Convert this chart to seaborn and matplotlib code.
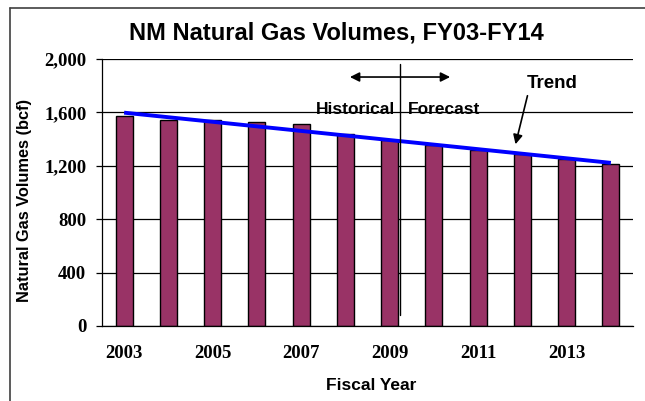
import numpy as np
import pandas as pd
import matplotlib
matplotlib.use("Agg")
import matplotlib.pyplot as plt
from matplotlib.lines import Line2D
import seaborn as sns

# ------------------------------------------
# Data
# ------------------------------------------

years = [2003, 2004, 2005, 2006, 2007, 2008, 2009, 2010, 2011, 2012, 2013, 2014]
volumes = [1573, 1545, 1540, 1526, 1511, 1440, 1390, 1355, 1320, 1285, 1250, 1212]
trend_years = [2003, 2014]
trend_values = [1598, 1222]
y_ticks = [0, 400, 800, 1200, 1600, 2000]
labelled_years = [2003, 2005, 2007, 2009, 2011, 2013]

df = pd.DataFrame({"year": [str(y) for y in years], "volume": volumes})

# ------------------------------------------
# Figure
# ------------------------------------------

sns.set_theme(style="white")
plt.rcParams["font.family"] = ["Liberation Sans", "DejaVu Sans"]
plt.rcParams["text.color"] = "black"
plt.rcParams["axes.labelcolor"] = "black"
plt.rcParams["xtick.color"] = "black"
plt.rcParams["ytick.color"] = "black"

fig = plt.figure(figsize=(6.45, 4.01), dpi=100)
ax = fig.add_axes([102 / 645, 1 - 326 / 401, 531 / 645, 267 / 401])

sns.barplot(
    data=df,
    x="year",
    y="volume",
    color="#993366",
    saturation=1,
    width=0.38,
    edgecolor="black",
    linewidth=1,
    ax=ax,
)

# trend line, drawn on the category positions
trend_pos = [years.index(y) for y in trend_years]
ax.plot(trend_pos, trend_values, color="#0000ff", lw=2.8, solid_capstyle="butt", zorder=4)

# ------------------------------------------
# Axes styling
# ------------------------------------------

ax.set_xlim(-0.5, len(years) - 0.5)
ax.set_ylim(0, 2000)
ax.set_yticks(y_ticks)
ax.set_yticklabels([f"{v:,}" for v in y_ticks])
ax.yaxis.grid(True, color="black", lw=0.9)
ax.set_axisbelow(True)

label_pos = [years.index(y) for y in labelled_years]
ax.set_xticks(label_pos)
ax.set_xticklabels([str(y) for y in labelled_years])
ax.set_xticks(np.arange(-0.5, len(years)), minor=True)
ax.tick_params(axis="x", which="major", length=0, pad=14)
ax.tick_params(axis="x", which="minor", length=4.3, width=0.9, color="black", direction="out")
ax.tick_params(axis="y", which="major", length=4.3, width=0.9, color="black", direction="out", pad=7)
ax.tick_params(left=True, bottom=True)

for lab in ax.get_xticklabels() + ax.get_yticklabels():
    lab.set_fontfamily("Liberation Serif")
    lab.set_fontweight("bold")
    lab.set_fontsize(13.5)
    lab.set_color("black")

for side in ["top", "right"]:
    ax.spines[side].set_visible(False)
for side in ["left", "bottom"]:
    ax.spines[side].set_color("black")
    ax.spines[side].set_linewidth(0.9)

ax.set_xlabel("")
ax.set_ylabel("")

# ------------------------------------------
# Annotations
# ------------------------------------------

ax.plot([6.23, 6.23], [82, 1963], color="black", lw=1.0, zorder=5)
ax.annotate(
    "", xy=(7.43, 1865), xytext=(5.04, 1865),
    arrowprops=dict(arrowstyle="<|-|>", color="black", lw=1.2, mutation_scale=14),
)
ax.text(6.12, 1618, "Historical", ha="right", va="center", fontsize=12.5,
        fontweight="bold", color="black", zorder=0.3)
ax.text(6.42, 1618, "Forecast", ha="left", va="center", fontsize=12.5,
        fontweight="bold", color="black", zorder=0.3)
ax.text(9.10, 1820, "Trend", ha="left", va="center", fontsize=13.5,
        fontweight="bold", color="black")
ax.annotate(
    "", xy=(8.83, 1341), xytext=(9.13, 1745),
    arrowprops=dict(arrowstyle="-|>", color="black", lw=1.2, mutation_scale=14),
)

fig.text(336 / 645, 1 - 33 / 401, "NM Natural Gas Volumes, FY03-FY14",
         ha="center", va="center", fontsize=17, fontweight="bold", color="black")
fig.text(371.5 / 645, 1 - 385 / 401, "Fiscal Year",
         ha="center", va="center", fontsize=12.5, fontweight="bold", color="black")
fig.text(25 / 645, 1 - 200 / 401, "Natural Gas Volumes (bcf)", rotation=90,
         ha="center", va="center", fontsize=11.8, fontweight="bold", color="black")

# outer chart frame (left and top edges visible in the reference)
fig.add_artist(Line2D([10 / 645, 10 / 645], [0, 1 - 8 / 401], color="#404040", lw=1.2,
                      transform=fig.transFigure))
fig.add_artist(Line2D([10 / 645, 1], [1 - 8 / 401, 1 - 8 / 401], color="#404040", lw=1.2,
                      transform=fig.transFigure))

plt.savefig("out.png", dpi=100)
